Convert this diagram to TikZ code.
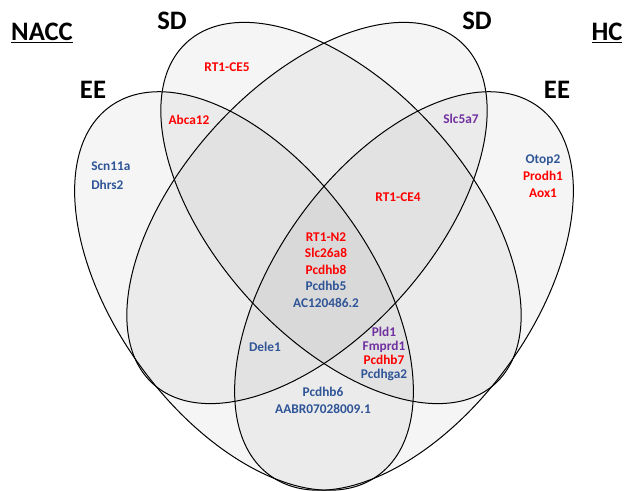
\documentclass[tikz,border=0pt]{standalone}
\usepackage{fontspec}
\setmainfont{Carlito}
\definecolor{genered}{RGB}{255,0,0}
\definecolor{geneblue}{RGB}{47,85,151}
\definecolor{genepurple}{RGB}{112,48,160}

\begin{document}
\begin{tikzpicture}[x=0.75pt,y=-0.75pt,
    setshape/.style={draw=black,line width=0.75pt,fill=black,fill opacity=0.04},
    grouplabel/.style={font=\bfseries\fontsize{20}{24}\selectfont,inner sep=0pt},
    gene/.style={font=\bfseries\fontsize{10}{12.4}\selectfont,align=center,inner sep=0pt}]
  \useasboundingbox (0,0) rectangle (625,491);
  \draw[setshape,rotate around={-54:(244,291)}] (244,291) ellipse [x radius=228,y radius=128];
  \draw[setshape,rotate around={54:(404,291)}] (404,291) ellipse [x radius=228,y radius=128];
  \draw[setshape,rotate around={-48:(341,213)}] (341,213) ellipse [x radius=230,y radius=126];
  \draw[setshape,rotate around={48:(307,213)}] (307,213) ellipse [x radius=230,y radius=126];

  \node[grouplabel] (nacc) at (42,33) {\underline{NACC}};
  \node[grouplabel] (hc) at (607,33) {\underline{HC}};
  \node[grouplabel] (sdleft) at (172,21) {SD};
  \node[grouplabel] (sdright) at (477,21) {SD};
  \node[grouplabel] (eeleft) at (93,90) {EE};
  \node[grouplabel] (eeright) at (557,90) {EE};

  \node[gene,text=genered] (ce5) at (227,67) {RT1-CE5};
  \node[gene,text=genered] (abca) at (189,120) {Abca12};
  \node[gene,text=geneblue,align=left,anchor=west,font=\bfseries\fontsize{10}{14.2}\selectfont] (nacconly) at (91,176) {Scn11a\\Dhrs2};
  \node[gene,text=genepurple] (slc) at (461,119) {Slc5a7};
  \node[gene,font=\bfseries\fontsize{10}{12.8}\selectfont] (hconly) at (543,176) {\color{geneblue}Otop2\\\color{genered}Prodh1\\\color{genered}Aox1};
  \node[gene,text=genered] (ce4) at (398,197) {RT1-CE4};
  \node[gene] (core) at (326,270) {\color{genered}RT1-N2\\\color{genered}Slc26a8\\\color{genered}Pcdhb8\\\color{geneblue}Pcdhb5\\\color{geneblue}AC120486.2};
  \node[gene,text=geneblue] (dele) at (265,347) {Dele1};
  \node[gene,font=\bfseries\fontsize{10}{10.7}\selectfont] (hcee) at (384,354) {\color{genepurple}Pld1\\\color{genepurple}Fmprd1\\\color{genered}Pcdhb7\\\color{geneblue}Pcdhga2};
  \node[gene,text=geneblue,font=\bfseries\fontsize{10}{12.8}\selectfont] (bottom) at (323,400) {Pcdhb6\\AABR07028009.1};
\end{tikzpicture}
\end{document}
